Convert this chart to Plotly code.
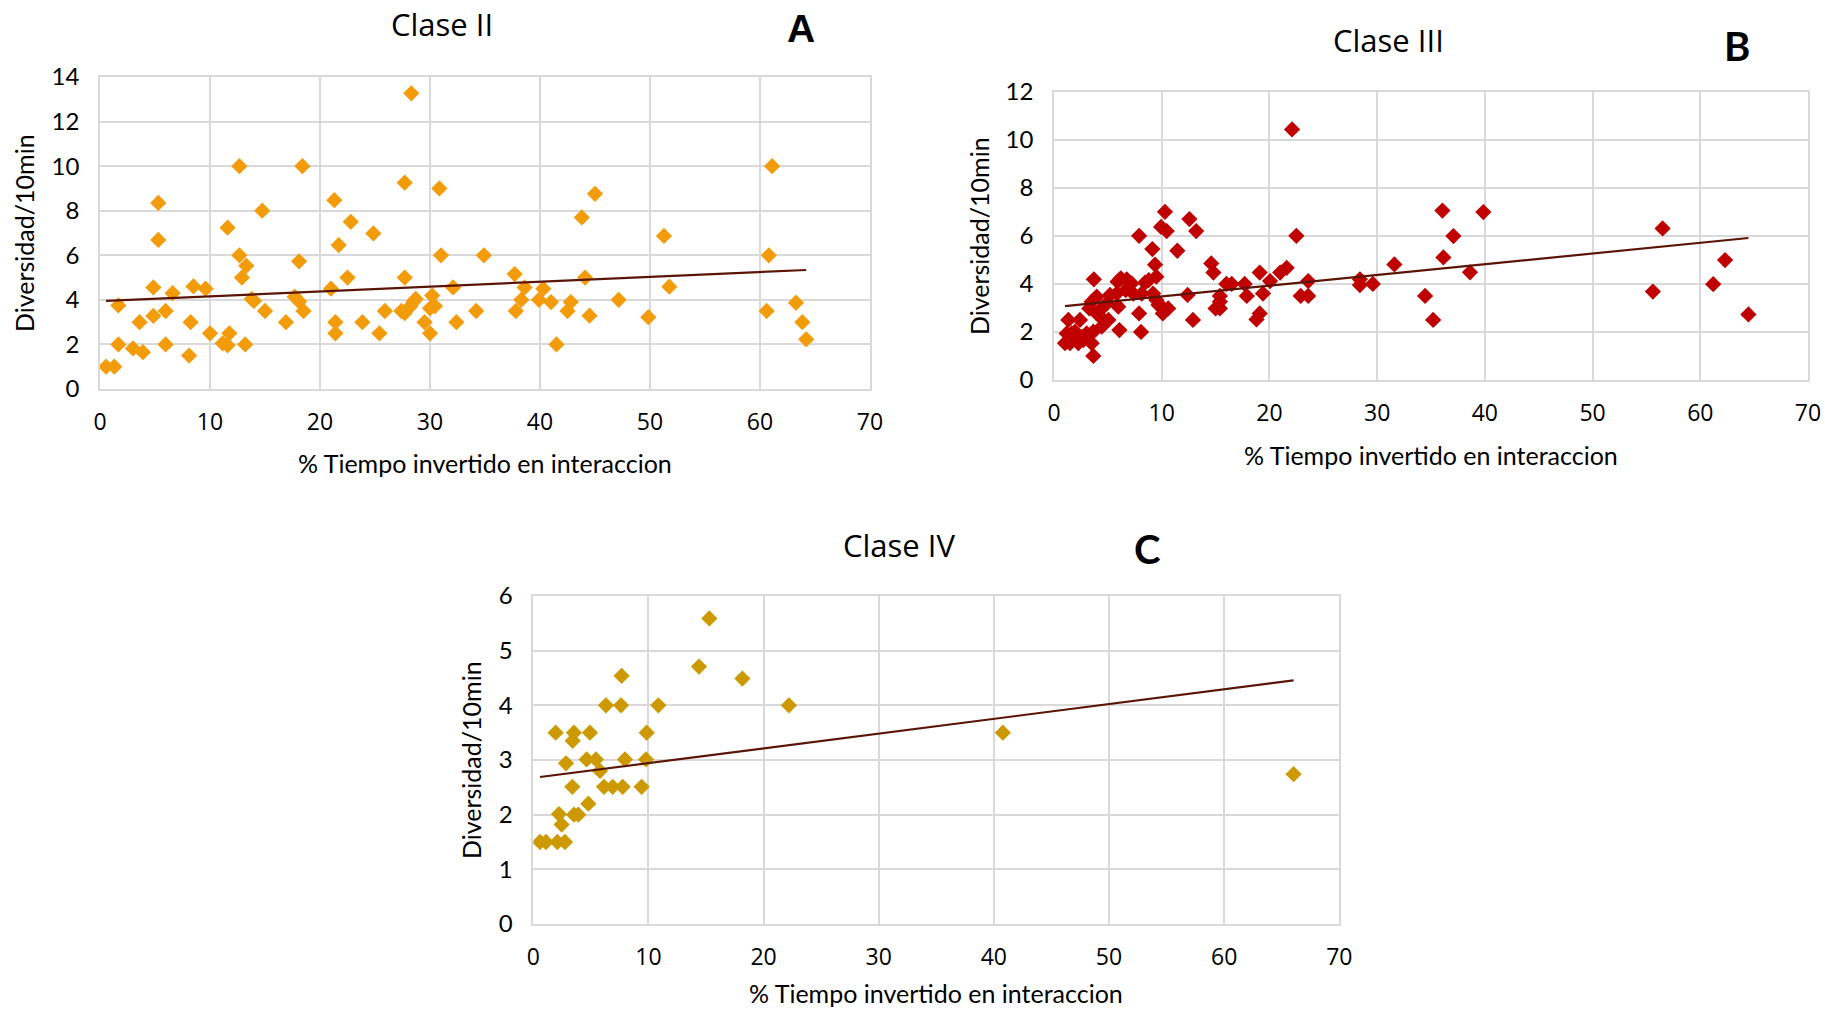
import plotly.graph_objects as go

# ---- Clase II (panel A) ----
clase2_x = [0.55, 1.3, 1.67, 1.67, 3.0, 3.9, 3.6, 4.85, 4.85, 5.3, 5.3, 5.97, 5.97, 6.6,
            8.1, 8.24, 8.5, 9.6, 10.0, 11.15, 11.6, 11.76, 11.6, 12.67, 12.67, 13.3, 12.9,
            13.2, 13.8, 14.0, 14.75, 15.0, 16.9, 17.7, 18.1, 18.1, 18.4, 18.5, 21.0, 21.3,
            21.4, 21.4, 21.7, 22.5, 22.8, 23.85, 24.85, 25.4, 25.9, 27.4, 27.7, 27.7, 27.7,
            28.3, 28.2, 28.5, 28.7, 29.5, 30.0, 30.2, 30.0, 30.45, 30.85, 31.0, 32.1, 32.4,
            34.2, 34.9, 37.7, 37.8, 38.3, 38.6, 39.9, 40.3, 41.0, 41.5, 42.5, 42.8, 43.8,
            44.1, 44.5, 45.0, 47.15, 49.85, 51.27, 51.76, 60.6, 60.8, 61.1, 63.27, 63.85, 64.2]
clase2_y = [1.0, 1.0, 2.0, 3.75, 1.82, 1.65, 3.0, 4.56, 3.28, 8.35, 6.69, 3.5, 2.0, 4.3,
            1.5, 3.0, 4.6, 4.5, 2.5, 2.05, 1.96, 2.5, 7.24, 10.0, 6.0, 5.53, 5.0,
            2.0, 4.04, 3.95, 8.0, 3.5, 3.0, 4.14, 3.93, 5.73, 10.0, 3.5, 4.5, 8.47,
            3.0, 2.5, 6.46, 5.0, 7.5, 3.0, 6.98, 2.5, 3.5, 3.5, 3.4, 5.0, 9.26,
            13.27, 3.7, 3.92, 4.04, 3.0, 2.5, 4.19, 3.62, 3.72, 9.0, 6.0, 4.56, 3.0,
            3.5, 6.0, 5.16, 3.5, 4.0, 4.56, 4.0, 4.5, 3.9, 2.0, 3.5, 3.9, 7.7,
            5.0, 3.29, 8.76, 4.0, 3.22, 6.87, 4.59, 3.5, 6.0, 10.0, 3.87, 3.0, 2.23]
clase2_trend = (3.94, 0.0218)   # intercept, slope

# ---- Clase III (panel B) ----
clase3_x = [22.1, 10.3, 12.57, 13.2, 9.94, 10.46, 7.9, 22.5, 9.13, 11.45, 9.38, 9.5, 3.7,
            14.6, 14.8, 19.1, 21.0, 21.6, 20.06, 23.6, 28.4, 28.4, 29.6, 31.6, 16.0, 16.5,
            17.7, 17.9, 19.4, 22.9, 23.6, 12.4, 15.4, 15.4, 15.0, 15.4, 12.9, 18.8, 19.1,
            8.08, 6.07, 7.9, 8.45, 8.8, 5.9, 6.2, 6.75, 7.2, 6.66, 7.37, 8.14, 9.2, 9.5,
            9.7, 10.15, 10.1, 10.6, 5.82, 5.2, 5.97, 4.9, 3.96, 3.5, 3.28, 4.43, 3.96,
            4.58, 5.05, 4.43, 3.65, 2.41, 1.33, 1.18, 1.64, 1.95, 3.03, 1.02, 1.49, 2.26,
            2.72, 3.5, 3.65, 2.57, 2.04,
            36.06, 39.86, 37.08, 36.15, 34.45, 35.2, 38.62, 56.5, 55.6, 62.3, 61.2, 64.47]
clase3_y = [10.43, 7.0, 6.7, 6.2, 6.37, 6.2, 6.0, 6.0, 5.45, 5.38, 4.8, 4.3, 4.19,
            4.85, 4.47, 4.47, 4.47, 4.67, 4.12, 4.12, 4.19, 3.95, 4.0, 4.81, 4.0, 4.0,
            4.0, 3.5, 3.6, 3.5, 3.5, 3.54, 3.5, 3.26, 2.98, 2.98, 2.5, 2.52, 2.77,
            2.0, 2.08, 2.77, 4.05, 4.16, 4.09, 4.23, 4.19, 4.02, 3.74, 3.6, 3.6, 3.6, 3.33,
            3.12, 2.98, 2.77, 2.98, 3.6, 3.54, 3.05, 3.19, 3.47, 3.26, 2.98, 2.98, 2.77,
            2.5, 2.5, 2.22, 2.01, 2.5, 2.5, 1.94, 1.94, 2.01, 1.94, 1.53, 1.53, 1.53,
            1.66, 1.53, 1.0, 1.8, 1.73,
            7.05, 6.99, 5.99, 5.1, 3.5, 2.5, 4.48, 6.31, 3.68, 4.99, 3.99, 2.73]
clase3_trend = (3.03, 0.0447)

# ---- Clase IV (panel C) ----
clase4_x = [0.58, 1.1, 2.09, 2.75, 2.46, 2.23, 1.94, 2.84, 3.42, 3.53, 3.39, 3.53, 3.91,
            4.78, 4.63, 4.92, 5.44, 5.79, 6.14, 6.31, 6.89, 7.62, 7.67, 7.76, 7.96, 9.41,
            9.79, 9.85, 10.86, 14.39, 15.29, 18.16, 22.2, 40.78, 66.03]
clase4_y = [1.5, 1.5, 1.5, 1.5, 1.82, 2.01, 3.5, 2.94, 3.35, 3.5, 2.51, 2.0, 2.0,
            2.2, 3.01, 3.5, 3.01, 2.8, 2.51, 4.0, 2.51, 4.0, 4.54, 2.51, 3.01, 2.51,
            3.01, 3.5, 4.0, 4.71, 5.59, 4.49, 4.0, 3.5, 2.74]
clase4_trend = (2.673, 0.027)

W, H = 1825, 1010
FONT = "Lato"
WIDE_FONT = "Open Sans"
GRID = "#d9d9d9"
TREND_COLOR = "#5b1507"


def px_x(v):
    return v / W


def px_y(v):
    return 1 - v / H


panels = [
    # name, x, y, trend, colour, x-domain px, y-domain px (top, bottom), y max, y step
    ("Clase II", clase2_x, clase2_y, clase2_trend, "#f39c0b", (100, 870), (77, 389), 14, 2),
    ("Clase III", clase3_x, clase3_y, clase3_trend, "#c00000", (1054, 1808), (91.7, 380), 12, 2),
    ("Clase IV", clase4_x, clase4_y, clase4_trend, "#cc9900", (533.3, 1339.3), (596, 924), 6, 1),
]

fig = go.Figure()
layout = dict(
    width=W, height=H,
    margin=dict(l=0, r=0, t=0, b=0),
    paper_bgcolor="white", plot_bgcolor="white",
    showlegend=False,
    font=dict(family=FONT, color="black"),
)

for i, (name, xs, ys, (b0, b1), color, (xl, xr), (yt, yb), ymax, ystep) in enumerate(panels):
    sfx = "" if i == 0 else str(i + 1)
    fig.add_trace(go.Scatter(
        x=xs, y=ys, mode="markers", name=name,
        marker=dict(symbol="diamond", size=12.5, color=color, line=dict(width=0)),
        xaxis="x" + sfx, yaxis="y" + sfx,
    ))
    tx = [min(xs), max(xs)]
    fig.add_trace(go.Scatter(
        x=tx, y=[b0 + b1 * v for v in tx], mode="lines", name=name + " tendencia",
        line=dict(color=TREND_COLOR, width=2.2), hoverinfo="skip",
        xaxis="x" + sfx, yaxis="y" + sfx,
    ))
    layout["xaxis" + sfx] = dict(
        domain=[px_x(xl), px_x(xr)], anchor="y" + sfx, automargin=False,
        range=[0, 70], dtick=10, tick0=0,
        showgrid=True, gridcolor=GRID, gridwidth=1.5,
        showline=True, mirror=True, linecolor=GRID, linewidth=1.5,
        zeroline=False, ticks="", ticklabelstandoff=12,
        tickfont=dict(family=WIDE_FONT, size=23, color="black"),
    )
    layout["yaxis" + sfx] = dict(
        domain=[px_y(yb), px_y(yt)], anchor="x" + sfx, automargin=False,
        range=[0, ymax], dtick=ystep, tick0=0,
        showgrid=True, gridcolor=GRID, gridwidth=1.5,
        showline=True, mirror=True, linecolor=GRID, linewidth=1.5,
        zeroline=False, ticks="", ticklabelstandoff=14,
        tickfont=dict(family=FONT, size=24, color="black"),
    )

annotations = []


def text(s, x, y, size, angle=0, family=FONT, bold=False):
    annotations.append(dict(
        text=("<b>%s</b>" % s) if bold else s, x=px_x(x), y=px_y(y),
        xref="paper", yref="paper", xanchor="center", yanchor="middle",
        showarrow=False, textangle=angle,
        font=dict(family=family, size=size, color="black"),
    ))


# panel titles and letters
text("Clase II", 442, 24, 31, family=WIDE_FONT)
text("Clase III", 1388, 40, 31, family=WIDE_FONT)
text("Clase IV", 899, 545, 31, family=WIDE_FONT)
text("A", 801, 28, 39, family="Liberation Sans", bold=True)
text("B", 1737, 46, 40, bold=True)
text("C", 1147, 549, 40, bold=True)

# axis titles
xtitle = "% Tiempo invertido en interaccion"
ytitle = "Diversidad/10min"
text(xtitle, 485, 463, 25)
text(xtitle, 1431, 455, 25)
text(xtitle, 936, 993, 25)
text(ytitle, 24, 233, 25, angle=-90)
text(ytitle, 979, 236, 25, angle=-90)
text(ytitle, 471, 760, 25, angle=-90)

layout["annotations"] = annotations
fig.update_layout(**layout)
fig.write_html("out.html")
